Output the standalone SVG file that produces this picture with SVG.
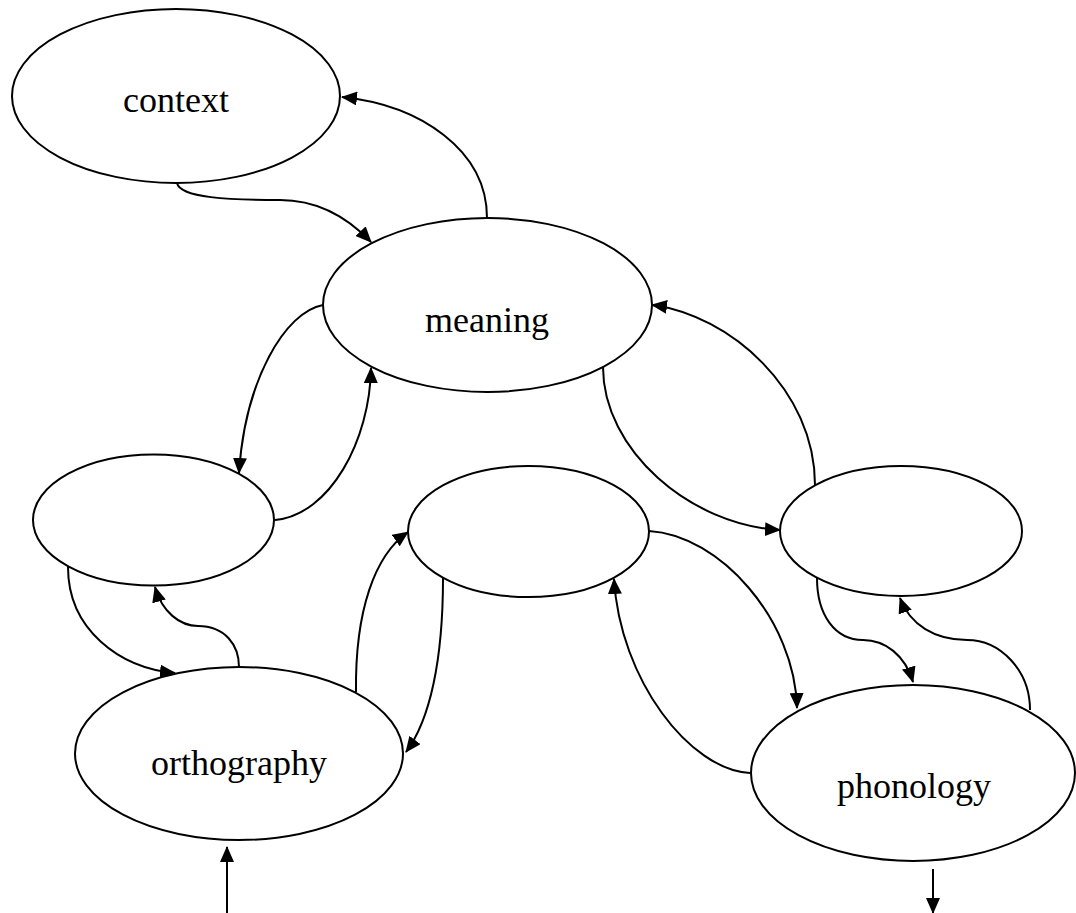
<svg xmlns="http://www.w3.org/2000/svg" width="1076" height="913" viewBox="0 0 1076 913">
<style>
.node ellipse{fill:#fff;stroke:#000;stroke-width:2}
.node text{font-family:"Liberation Serif","Times New Roman",serif;font-size:36px;text-anchor:middle;fill:#000}
.edge{fill:none;stroke:#000;stroke-width:2;marker-end:url(#arr)}
</style>
<defs>
<marker id="arr" markerUnits="userSpaceOnUse" viewBox="0 0 16 14" refX="15" refY="7" markerWidth="16" markerHeight="14" orient="auto">
<path d="M0,0 L16,7 L0,14 z" fill="#000"/>
</marker>
</defs>
<rect width="1076" height="913" fill="#fff"/>
<g id="connectors">
<path class="edge" d="M487,218 C487,150 420,105 342,97"/>
<path class="edge" d="M177,183 C180,198 230,200 280,200 C320,200 350,220 371,242"/>
<path class="edge" d="M323,305 C285,312 245,380 239,473"/>
<path class="edge" d="M275,520 C330,515 370,440 371,368"/>
<path class="edge" d="M68,567 C68,630 120,668 175,673"/>
<path class="edge" d="M239,667 C239,645 225,626 198,626 C180,626 162,612 155,587"/>
<path class="edge" d="M356,692 C355,610 375,555 408,532"/>
<path class="edge" d="M443,578 C443,660 430,720 406,752"/>
<path class="edge" d="M750,773 C690,770 620,680 614,579"/>
<path class="edge" d="M649,531 C720,535 795,620 797,708"/>
<path class="edge" d="M603,367 C603,450 690,525 780,530"/>
<path class="edge" d="M815,485 C815,390 730,315 652,305"/>
<path class="edge" d="M817,578 C817,615 835,640 863,640 C885,640 905,655 913,682"/>
<path class="edge" d="M1030,710 C1030,670 1000,640 967,640 C935,640 910,625 900,598"/>
<path class="edge" d="M227,913 L227,847"/>
<path class="edge" d="M933,869 L933,913"/>
</g>
<g id="context" class="node"><ellipse cx="176" cy="96" rx="164" ry="87"/><text x="176" y="112">context</text></g>
<g id="meaning" class="node"><ellipse cx="487.5" cy="305" rx="164.5" ry="87"/><text x="487" y="332">meaning</text></g>
<g id="left" class="node"><ellipse cx="153.5" cy="520" rx="120.5" ry="65.5"/></g>
<g id="middle" class="node"><ellipse cx="528.5" cy="531.5" rx="120.5" ry="65.5"/></g>
<g id="right" class="node"><ellipse cx="901" cy="531" rx="121" ry="65"/></g>
<g id="orthography" class="node"><ellipse cx="239" cy="753.5" rx="164" ry="86.5"/><text x="239" y="775">orthography</text></g>
<g id="phonology" class="node"><ellipse cx="913" cy="773" rx="162" ry="88"/><text x="914" y="798">phonology</text></g>
</svg>
